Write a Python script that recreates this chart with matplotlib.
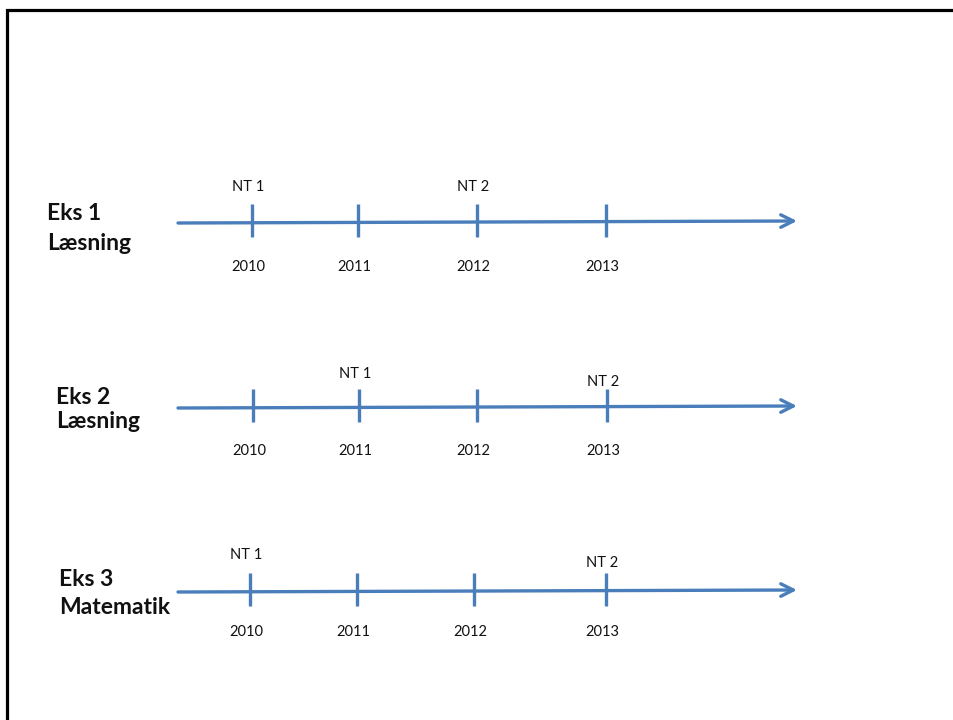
import matplotlib
matplotlib.use("Agg")
import matplotlib.pyplot as plt

# data
YEARS = ["2010", "2011", "2012", "2013"]
ROW_TITLES = [("Eks 1", "Læsning"), ("Eks 2", "Læsning"), ("Eks 3", "Matematik")]
# which year each national test (NT 1, NT 2) falls on, per row
NT_YEARS = [("2010", "2012"), ("2011", "2013"), ("2010", "2013")]
NT_NAMES = ["NT 1", "NT 2"]

# layout (pixel coords, hand placed like the original slide)
ROW_Y = [222, 407, 591]
TICK_X = [
    [252, 358, 477, 606],
    [253, 359, 477, 607],
    [250, 357, 474, 606],
]
YEAR_DY = [45, 44, 41]
NT_DY = [-35, -33, -36]
NT2_EXTRA = [0, 8, 8]
TITLE_X = [47, 56, 59]
TITLE_DY = [(-8, 21), (-10, 15), (-11, 17)]
LINE_X0, LINE_X1 = 178, 797
BLUE = "#4a7ebb"

plt.rcParams['font.family'] = ['Lato', 'DejaVu Sans']

fig = plt.figure(figsize=(9.54, 7.2), dpi=100)
ax = fig.add_axes([0, 0, 1, 1])
ax.set_xlim(0, 954)
ax.set_ylim(720, 0)
ax.axis("off")

# slide frame
ax.plot([7, 7, 960], [730, 10, 10], color="black", linewidth=2.3, solid_joinstyle="miter")

for r, y in enumerate(ROW_Y):
    ax.annotate("", xy=(LINE_X1, y - 1), xytext=(LINE_X0, y + 1),
                arrowprops=dict(arrowstyle="->,head_length=0.9,head_width=0.45",
                                color=BLUE, linewidth=2.4, shrinkA=0, shrinkB=0))
    for i, year in enumerate(YEARS):
        x = TICK_X[r][i]
        ax.plot([x, x], [y - 18, y + 15], color=BLUE, linewidth=2.4, solid_capstyle="butt")
        ax.text(x - 4, y + YEAR_DY[r], year, ha="center", va="center", fontsize=10.5, color="#111111")
    for k, ny in enumerate(NT_YEARS[r]):
        x = TICK_X[r][YEARS.index(ny)]
        dy = NT_DY[r] + (NT2_EXTRA[r] if k == 1 else 0)
        ax.text(x - 4, y + dy, NT_NAMES[k], ha="center", va="center", fontsize=10.5, color="#111111")
    t1, t2 = ROW_TITLES[r]
    ax.text(TITLE_X[r], y + TITLE_DY[r][0], t1, ha="left", va="center", fontsize=16.5,
            fontweight="bold", color="#111111")
    ax.text(TITLE_X[r], y + TITLE_DY[r][1], t2, ha="left", va="center", fontsize=16.5,
            fontweight="bold", color="#111111")

fig.savefig("out.png", dpi=100)
